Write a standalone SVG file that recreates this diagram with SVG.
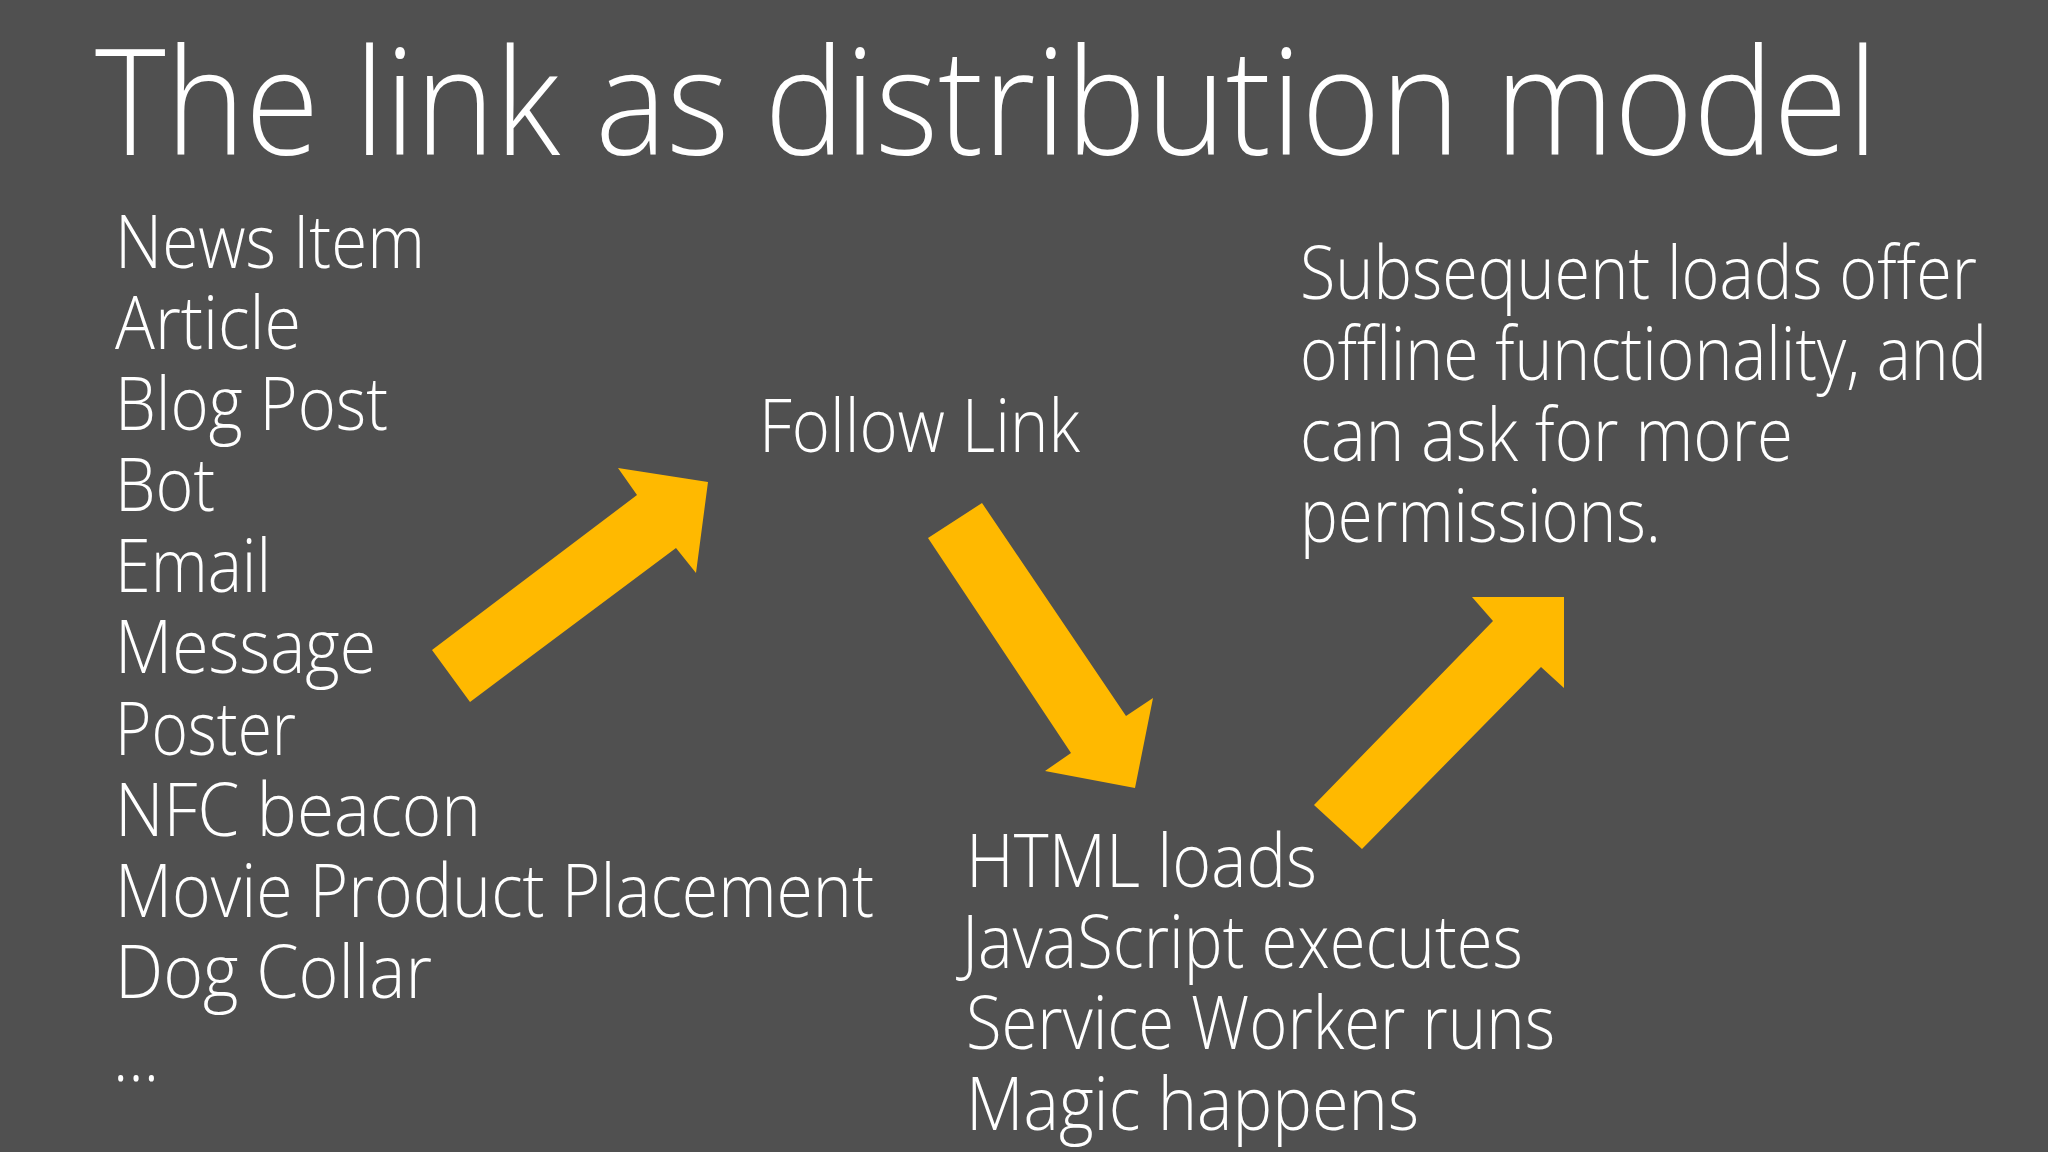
<svg xmlns="http://www.w3.org/2000/svg" width="2048" height="1152" viewBox="0 0 2048 1152">
  <style>
    .t { font-family: "Open Sans", "Noto Sans", "Liberation Sans", sans-serif; font-weight: 300; fill: #ffffff; }
    .title { font-size: 148px; }
    .body { font-size: 74px; }
    .arrow { fill: #FFB900; }
  </style>
  <rect x="0" y="0" width="2048" height="1152" fill="#505050"/>

  <g id="title">
    <text class="t title" x="95" y="155" textLength="1783" lengthAdjust="spacingAndGlyphs">The link as distribution model</text>
  </g>

  <g id="sources">
    <text class="t body" x="115" y="268" textLength="310" lengthAdjust="spacingAndGlyphs">News Item</text>
    <text class="t body" x="115" y="349" textLength="186" lengthAdjust="spacingAndGlyphs">Article</text>
    <text class="t body" x="115" y="430" textLength="273" lengthAdjust="spacingAndGlyphs">Blog Post</text>
    <text class="t body" x="115" y="511" textLength="100" lengthAdjust="spacingAndGlyphs">Bot</text>
    <text class="t body" x="115" y="592" textLength="156" lengthAdjust="spacingAndGlyphs">Email</text>
    <text class="t body" x="115" y="673" textLength="261" lengthAdjust="spacingAndGlyphs">Message</text>
    <text class="t body" x="115" y="755" textLength="181" lengthAdjust="spacingAndGlyphs">Poster</text>
    <text class="t body" x="115" y="836" textLength="366" lengthAdjust="spacingAndGlyphs">NFC beacon</text>
    <text class="t body" x="115" y="917" textLength="759" lengthAdjust="spacingAndGlyphs">Movie Product Placement</text>
    <text class="t body" x="115" y="998" textLength="317" lengthAdjust="spacingAndGlyphs">Dog Collar</text>
    <text class="t body" x="113" y="1081" textLength="46" lengthAdjust="spacingAndGlyphs">…</text>
  </g>

  <g id="follow-link">
    <text class="t body" x="759" y="452" textLength="321" lengthAdjust="spacingAndGlyphs">Follow Link</text>
  </g>

  <g id="load-steps">
    <text class="t body" x="966" y="887" textLength="351" lengthAdjust="spacingAndGlyphs">HTML loads</text>
    <text class="t body" x="962" y="968" textLength="561" lengthAdjust="spacingAndGlyphs">JavaScript executes</text>
    <text class="t body" x="966" y="1049" textLength="589" lengthAdjust="spacingAndGlyphs">Service Worker runs</text>
    <text class="t body" x="966" y="1130" textLength="453" lengthAdjust="spacingAndGlyphs">Magic happens</text>
  </g>

  <g id="subsequent">
    <text class="t body" x="1300" y="299" textLength="677" lengthAdjust="spacingAndGlyphs">Subsequent loads offer</text>
    <text class="t body" x="1300" y="380" textLength="687" lengthAdjust="spacingAndGlyphs">offline functionality, and</text>
    <text class="t body" x="1300" y="461" textLength="493" lengthAdjust="spacingAndGlyphs">can ask for more</text>
    <text class="t body" x="1300" y="542" textLength="361" lengthAdjust="spacingAndGlyphs">permissions.</text>
  </g>

  <g id="connectors">
    <polygon class="arrow" points="432,650 637,495 618,468 708,482 696,573 676,548 470,702"/>
    <polygon class="arrow" points="928,538 982,503 1126,716 1153,698 1135,788 1045,771 1071,753"/>
    <polygon class="arrow" points="1314,805 1493,621 1472,597 1564,597 1564,688 1541,667 1362,849"/>
  </g>
</svg>
